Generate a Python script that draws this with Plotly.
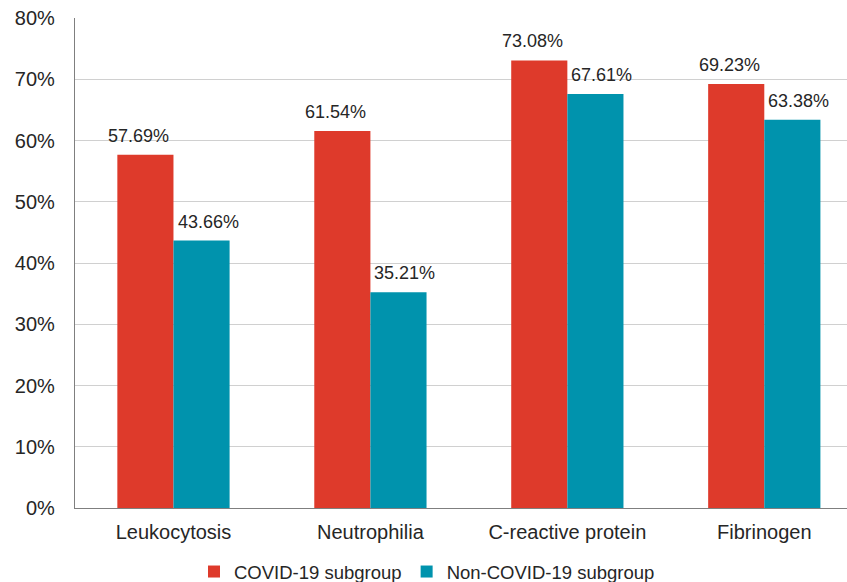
import plotly.graph_objects as go

categories = ["Leukocytosis", "Neutrophilia", "C-reactive protein", "Fibrinogen"]
covid = [57.69, 61.54, 73.08, 69.23]
non_covid = [43.66, 35.21, 67.61, 63.38]
y_ticks = [0, 10, 20, 30, 40, 50, 60, 70, 80]

RED = "#DE3A2B"
TEAL = "#0093AD"
FONT = "Liberation Sans, Arial, sans-serif"
TEXT = "#262626"

W, H = 847, 582
MARGIN = dict(l=75, r=0, t=18, b=74)
BARGAP = 0.43
X_RANGE = [-0.5, 3.42]

fig = go.Figure()
fig.add_trace(go.Bar(
    x=categories, y=covid, name="COVID-19 subgroup",
    marker=dict(color=RED, line=dict(width=0)),
))
fig.add_trace(go.Bar(
    x=categories, y=non_covid, name="Non-COVID-19 subgroup",
    marker=dict(color=TEAL, line=dict(width=0)),
))

# value labels above each bar, nudged outward from the group centre
band_px = (W - MARGIN["l"] - MARGIN["r"]) / (X_RANGE[1] - X_RANGE[0])
half_bar = band_px * (1 - BARGAP) / 4
for series, sign in ((covid, -1), (non_covid, 1)):
    for cat, v in zip(categories, series):
        fig.add_annotation(
            x=cat, y=v, text=f"{v:.2f}%", showarrow=False,
            xshift=sign * (half_bar + 6.5), yshift=7, yanchor="bottom",
            font=dict(size=18, color=TEXT, family=FONT),
        )

fig.update_layout(
    width=W, height=H,
    margin=MARGIN,
    paper_bgcolor="white", plot_bgcolor="white",
    barmode="group", bargap=BARGAP, bargroupgap=0,
    font=dict(family=FONT, color=TEXT, size=20),
    showlegend=True,
    legend=dict(orientation="h", x=427 / W, xanchor="center", xref="container",
                y=10 / H, yanchor="middle", yref="container",
                font=dict(size=18.5, color=TEXT, family=FONT), itemwidth=30,
                traceorder="normal", itemclick=False),
)
fig.update_xaxes(
    range=X_RANGE,
    showline=True, linecolor="#7F7F7F", linewidth=1.2,
    ticks="", tickfont=dict(size=20, color=TEXT), ticklabelstandoff=6,
)
fig.update_yaxes(
    range=[0, 80], tickvals=y_ticks, ticktext=[f"{v}%" for v in y_ticks],
    showgrid=True, gridcolor="#D0D0D0", gridwidth=1,
    showline=True, linecolor="#7F7F7F", linewidth=1.2,
    zeroline=False, ticks="", tickfont=dict(size=20, color=TEXT),
    ticklabelstandoff=15,
)

fig.write_html("out.html")
